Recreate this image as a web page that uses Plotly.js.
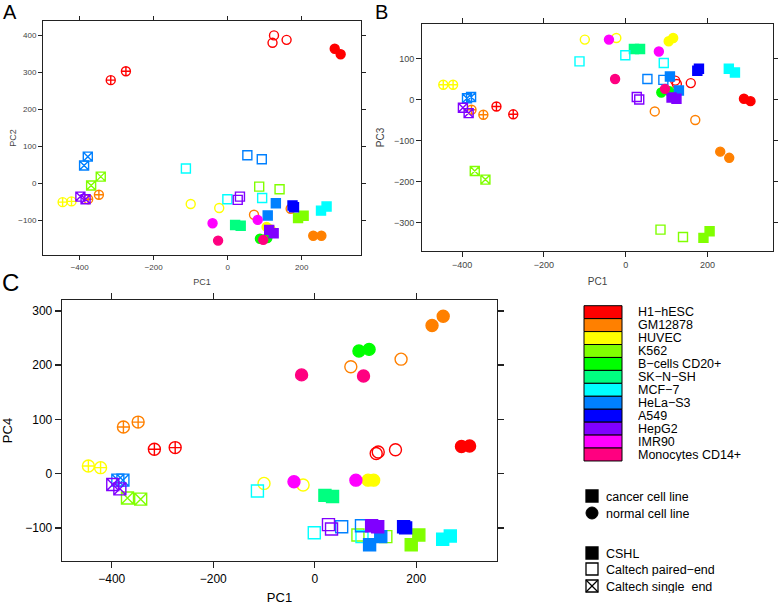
<!DOCTYPE html>
<html>
<head>
<meta charset="utf-8">
<script src="https://cdn.plot.ly/plotly-3.0.1.min.js"></script>
<style>
  body { margin: 0; background: #fff; }
  #plot { width: 778px; height: 605px; }
</style>
</head>
<body>
<div id="plot"></div>
<script>
// cell lines, in legend order, with their rainbow colours
const cellTypes = ["H1\u2212hESC", "GM12878", "HUVEC", "K562", "B\u2212cells CD20+", "SK\u2212N\u2212SH",
  "MCF\u22127", "HeLa\u2212S3", "A549", "HepG2", "IMR90", "Monocytes CD14+"];
const cellColors = ["#FF0000", "#FF8000", "#FFFF00", "#80FF00", "#00FF00", "#00FF80",
  "#00FFFF", "#0080FF", "#0000FF", "#8000FF", "#FF00FF", "#FF0080"];
const normalCells = [0, 1, 2, 4, 10, 11];
const labNames = ["CSHL", "Caltech paired\u2212end", "Caltech single  end"];

// one entry per sample: cell index, lab index (0 CSHL, 1 paired-end, 2 single end)
const sampleCell = [0, 0, 0, 0, 0, 0, 0,
  1, 1, 1, 1, 1, 1,
  2, 2, 2, 2, 2, 2,
  3, 3, 3, 3, 3, 3,
  4, 4,
  5, 5,
  6, 6, 6, 6, 6,
  7, 7, 7, 7, 7, 7,
  8, 8,
  9, 9, 9, 9, 9, 9,
  10, 10,
  11, 11];
const sampleLab = [0, 0, 1, 1, 1, 2, 2,
  0, 0, 1, 1, 2, 2,
  0, 0, 1, 1, 2, 2,
  0, 0, 1, 1, 2, 2,
  0, 0,
  0, 0,
  0, 0, 1, 1, 1,
  0, 0, 1, 1, 2, 2,
  0, 0,
  0, 0, 1, 1, 2, 2,
  0, 0,
  0, 0];
const pc1 = [289, 305, 121, 125, 159, -316, -275,
  231, 253, 71, 170, -377, -348,
  105, 116, -100, -23, -446, -422,
  190, 205, 85, 140, -369, -343,
  87, 107,
  20, 35,
  252, 267, -113, -1, 93,
  108, 130, 53, 92, -388, -378,
  175, 179,
  112, 124, 27, 33, -398, -384,
  -41, 81,
  -26, 96];
const pc2 = [364, 349, 380, 400, 388, 279, 303,
  -142, -142, -85, -69, -43, -31,
  -118, -125, -56, -67, -51, -49,
  -94, -88, -9, -16, -6, 18,
  -150, -148,
  -113, -115,
  -74, -63, 40, -43, -40,
  -87, -54, 76, 65, 48, 72,
  -60, -65,
  -126, -135, -45, -36, -36, -43,
  -108, -99,
  -155, -153];
const pc3 = [2, -4, 46, 38, 40, -17, -36,
  -127, -142, -29, -50, -25, -37,
  142, 150, 146, 150, 36, 36,
  -337, -321, -317, -335, -174, -195,
  17, 20,
  123, 123,
  75, 66, 93, 108, 89,
  56, 22, 50, 48, 3, 6,
  70, 75,
  5, 2, 6, 0, -20, -33,
  146, 117,
  50, 26];
const pc4 = [50, 51, 37, 40, 44, 45, 48,
  273, 290, 197, 211, 86, 95,
  -12, -12, -18, -21, 14, 11,
  -131, -113, -113, -116, -45, -47,
  226, 229,
  -40, -42,
  -121, -115, -32, -109, -116,
  -131, -116, -98, -96, -12, -12,
  -98, -100,
  -96, -98, -94, -102, -20, -28,
  -15, -12,
  182, 180];

function symbolFor(i) {
  const base = normalCells.includes(sampleCell[i]) ? "circle" : "square";
  if (sampleLab[i] === 0) return base;
  if (sampleLab[i] === 1) return base + "-open";
  return base === "circle" ? "circle-cross-open" : "square-x-open";
}
const symbols = pc1.map((_, i) => symbolFor(i));
const colors = sampleCell.map(c => cellColors[c]);

function panelTrace(yvals, xa, ya, size) {
  return {
    x: pc1, y: yvals, xaxis: xa, yaxis: ya,
    type: "scatter", mode: "markers", showlegend: false, hoverinfo: "skip",
    marker: { symbol: symbols, color: colors, size: size,
      line: { color: colors, width: 1.4 } }
  };
}

const W = 778, H = 605;
const px = v => v / W;
const py = v => 1 - v / H;

function axis(domain, range, dtick, tickFont, tlen, lineW, anchor, title, tFont, standoff) {
  return {
    domain: domain, range: range, dtick: dtick, anchor: anchor,
    showgrid: false, zeroline: false, showline: true, mirror: "ticks",
    linecolor: "#222", linewidth: lineW, ticks: "outside", ticklen: tlen,
    tickcolor: "#222", tickwidth: lineW, tickfont: tickFont,
    title: { text: title, font: tFont, standoff: standoff }
  };
}

const fA = { family: "Liberation Sans, Arial, sans-serif", size: 8, color: "#444" };
const fB = { family: "Liberation Sans, Arial, sans-serif", size: 9, color: "#444" };
const fC = { family: "Liberation Sans, Arial, sans-serif", size: 12, color: "#000" };

const layout = {
  width: W, height: H,
  margin: { l: 0, r: 0, t: 0, b: 0 },
  paper_bgcolor: "#fff", plot_bgcolor: "#fff",
  font: { family: "Liberation Sans, Arial, sans-serif" },
  xaxis: axis([px(43), px(361)], [-499, 360], 200, fA, 4, 1, "y", "PC1",
    { size: 9, color: "#444", family: fA.family }, 8),
  yaxis: axis([py(255), py(21)], [-194, 439], 100, fA, 4, 1, "x", "PC2",
    { size: 9, color: "#444", family: fA.family }, 0),
  xaxis2: axis([px(422), px(773)], [-498, 360], 200, fB, 5, 1, "y2", "PC1",
    { size: 10, color: "#444", family: fA.family }, 9),
  yaxis2: axis([py(251), py(24)], [-369, 184], 100, fB, 5, 1, "x2", "PC3",
    { size: 10, color: "#444", family: fA.family }, 7),
  xaxis3: axis([px(62), px(497)], [-498, 359], 200, fC, 6, 1.3, "y3", "PC1",
    { size: 13, color: "#000", family: fA.family }, 17),
  yaxis3: axis([py(561), py(300)], [-161, 320], 100, fC, 6, 1.3, "x3", "PC4",
    { size: 13, color: "#000", family: fA.family }, 9),
  shapes: [],
  annotations: []
};

// panel letters
[["A", 1, 12, 20], ["B", 373, 12, 20], ["C", 0, 282, 24]].forEach(([t, x, y, s]) => {
  layout.annotations.push({ text: t, xref: "paper", yref: "paper", x: px(x), y: py(y),
    xanchor: "left", yanchor: "middle", showarrow: false,
    font: { size: s, color: "#000", family: fA.family } });
});

// colour legend
const legText = { size: 12.5, color: "#000", family: fA.family };
const rowH = 12.94, top0 = 305.7;
cellTypes.forEach((name, i) => {
  const t = top0 + i * rowH;
  layout.shapes.push({ type: "rect", xref: "paper", yref: "paper",
    x0: px(584), x1: px(622), y0: py(t), y1: py(t + rowH),
    fillcolor: cellColors[i], line: { color: "#000", width: 1 } });
  layout.annotations.push({ text: name, xref: "paper", yref: "paper",
    x: px(636), y: py(t + rowH / 2), xanchor: "left", yanchor: "middle",
    height: 12, showarrow: false, font: legText });
});

// shape legend
function keyRect(y, filled) {
  layout.shapes.push({ type: "rect", xref: "paper", yref: "paper",
    x0: px(586), x1: px(598), y0: py(y + 6), y1: py(y - 6),
    fillcolor: filled ? "#000" : "rgba(0,0,0,0)", line: { color: "#000", width: 1.3 } });
}
function keyText(y, t) {
  layout.annotations.push({ text: t, xref: "paper", yref: "paper",
    x: px(604), y: py(y), xanchor: "left", yanchor: "middle",
    height: 13, showarrow: false, font: legText });
}
keyRect(496, true); keyText(496, "cancer cell line");
layout.shapes.push({ type: "circle", xref: "paper", yref: "paper",
  x0: px(586), x1: px(598), y0: py(519), y1: py(507),
  fillcolor: "#000", line: { color: "#000", width: 1 } });
keyText(513, "normal cell line");
keyRect(553, true); keyText(553, labNames[0]);
keyRect(569, false); keyText(569, labNames[1]);
keyRect(586, false); keyText(586, labNames[2]);
layout.shapes.push({ type: "line", xref: "paper", yref: "paper",
  x0: px(586), x1: px(598), y0: py(580), y1: py(592), line: { color: "#000", width: 1.2 } });
layout.shapes.push({ type: "line", xref: "paper", yref: "paper",
  x0: px(586), x1: px(598), y0: py(592), y1: py(580), line: { color: "#000", width: 1.2 } });

const data = [
  panelTrace(pc2, "x", "y", 9),
  panelTrace(pc3, "x2", "y2", 9),
  panelTrace(pc4, "x3", "y3", 12)
];

Plotly.newPlot("plot", data, layout, { staticPlot: true });
</script>
</body>
</html>
